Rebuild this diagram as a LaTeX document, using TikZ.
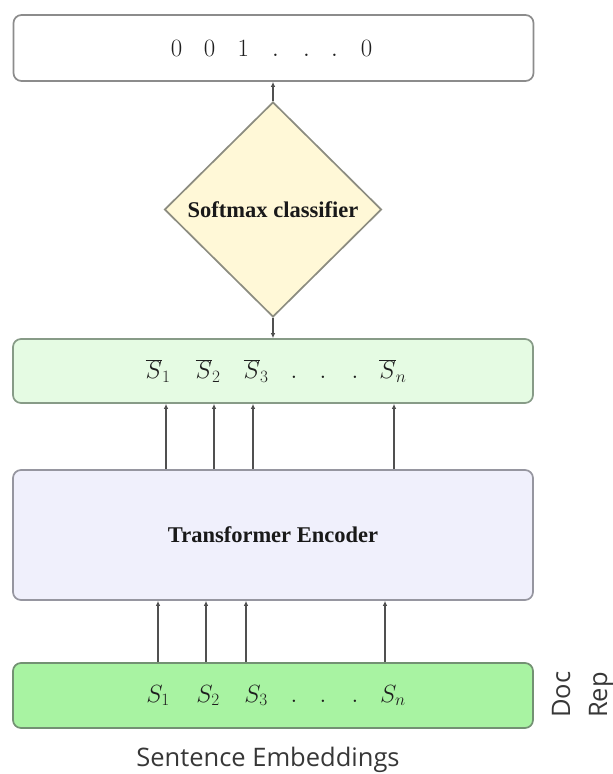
\documentclass[tikz,border=0pt]{standalone}
\usepackage{fontspec}
\usetikzlibrary{arrows.meta,shapes.geometric}
\newfontfamily\labelsans{Open Sans}
\newfontfamily\titleserif{Liberation Serif}

\definecolor{edgegray}{RGB}{140,140,140}
\definecolor{arrowgray}{RGB}{80,80,80}
\definecolor{textgray}{RGB}{30,30,30}
\definecolor{captiongray}{RGB}{55,55,55}
\definecolor{mintfill}{RGB}{229,251,227}
\definecolor{mintedge}{RGB}{135,155,135}
\definecolor{lavfill}{RGB}{240,240,252}
\definecolor{lavedge}{RGB}{150,150,160}
\definecolor{greenfill}{RGB}{168,243,162}
\definecolor{greenedge}{RGB}{115,145,115}
\definecolor{creamfill}{RGB}{255,248,215}
\definecolor{creamedge}{RGB}{140,140,128}

% one row of symbols, each centred in a box of the given width
\newcommand{\cellbox}[2]{\makebox[#1pt][c]{#2}}
\newcommand{\mathsz}{\fontsize{23}{27}\selectfont}

\begin{document}
\begin{tikzpicture}[x=1pt,y=1pt,
  panel/.style={rounded corners=8pt, line width=1.7pt, minimum width=520pt,
    inner sep=0pt, text=textgray},
  arr/.style={draw=arrowgray, line width=1.4pt, -{Latex[length=5pt,width=4.5pt]}},
  boldlabel/.style={font=\fontsize{22.5}{27}\selectfont\titleserif\bfseries, text=black!90},
  sidelabel/.style={font=\fontsize{25.5}{30}\selectfont\labelsans, text=captiongray, inner sep=0pt},
]
\useasboundingbox (0,0) rectangle (613,-774);

% output vector
\node[panel, draw=edgegray, fill=white, minimum height=66pt] (out) at (273.5,-48)
  {\mathsz\cellbox{32}{$0$}\cellbox{34}{$0$}\cellbox{34}{$1$}\cellbox{30}{$.$}\cellbox{32}{$.$}\cellbox{24}{$.$}\cellbox{40}{$0$}};

% classifier
\node[diamond, draw=creamedge, fill=creamfill, line width=1.7pt,
  minimum width=217pt, minimum height=215pt, inner sep=0pt, boldlabel] (soft) at (273,-209.5)
  {Softmax classifier};

% contextual sentence vectors
\node[panel, draw=mintedge, fill=mintfill, minimum height=64pt] (sbar) at (273,-371)
  {\mathsz\cellbox{40}{$\overline{S}_1$}\cellbox{60}{$\overline{S}_2$}\cellbox{36}{$\overline{S}_3$}\cellbox{40}{$.$}\cellbox{18}{$.$}\cellbox{46}{$.$}\cellbox{30}{$\overline{S}_n$}};

% encoder
\node[panel, draw=lavedge, fill=lavfill, minimum height=130pt, boldlabel] (enc) at (273,-535)
  {Transformer Encoder};

% input sentence embeddings
\node[panel, draw=greenedge, fill=greenfill, minimum height=65pt] (emb) at (273,-695.5)
  {\mathsz\cellbox{40}{$S_1$}\cellbox{60}{$S_2$}\cellbox{36}{$S_3$}\cellbox{40}{$.$}\cellbox{18}{$.$}\cellbox{46}{$.$}\cellbox{30}{$S_n$}};

% side and bottom captions
\node[sidelabel, rotate=90, anchor=base west] (doc) at (570,-718) {Doc};
\node[sidelabel, rotate=90, anchor=base west] (rep) at (607,-718) {Rep};
\node[sidelabel, anchor=base] (cap) at (268,-766) {Sentence Embeddings};

% connectors
\draw[arr] (soft.north) -- (soft.north |- out.south);
\draw[arr] (soft.south) -- (soft.south |- sbar.north);
\foreach \xx in {166,214,253,394}
  \draw[arr] (\xx,0 |- enc.north) -- (\xx,0 |- sbar.south);
\foreach \xx in {158,206,246,385}
  \draw[arr] (\xx,0 |- emb.north) -- (\xx,0 |- enc.south);
\end{tikzpicture}
\end{document}
